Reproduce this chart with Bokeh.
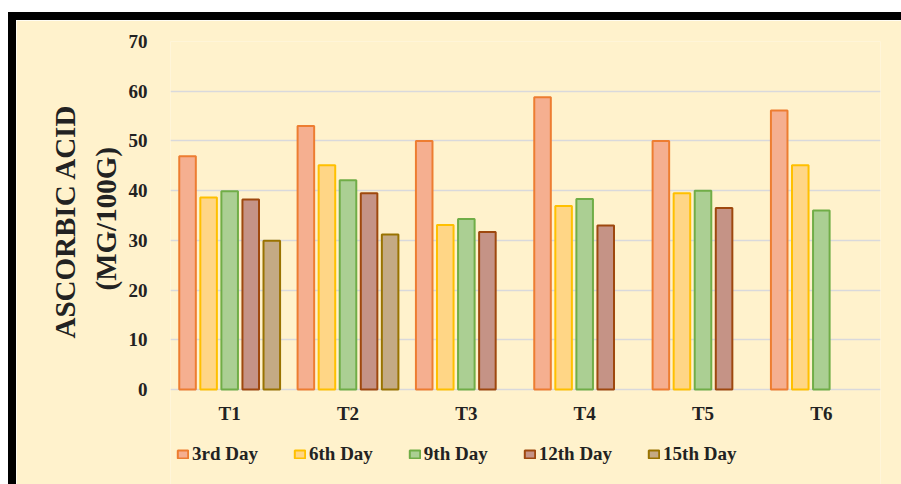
from bokeh.plotting import figure
from bokeh.models import (FactorRange, Range1d, Legend, LegendItem, Title,
                          FixedTicker, ColumnDataSource)
from bokeh.core.properties import value
from bokeh.transform import dodge
from bokeh.embed import file_html
from bokeh.resources import INLINE

treatments = ["T1", "T2", "T3", "T4", "T5", "T6"]
series_names = ["3rd Day", "6th Day", "9th Day", "12th Day", "15th Day"]
day3 = [46.9, 53.0, 50.0, 58.8, 50.0, 56.1]
day6 = [38.6, 45.1, 33.1, 36.9, 39.5, 45.1]
day9 = [39.9, 42.1, 34.3, 38.3, 40.0, 36.0]
day12 = [38.2, 39.5, 31.7, 33.0, 36.5, None]
day15 = [29.9, 31.2, None, None, None, None]
y_ticks = [0, 10, 20, 30, 40, 50, 60, 70]
y_title_lines = ["ASCORBIC ACID", "(MG/100G)"]

series_values = [day3, day6, day9, day12, day15]
fill_colors = ["#F5AF90", "#FFD686", "#ABCF93", "#C59386", "#C4AA84"]
line_colors = ["#ED7D31", "#FFC000", "#70AD47", "#9E480E", "#997300"]
offsets = [-0.356, -0.178, 0.0, 0.178, 0.356]

BG = "#FFF2CC"
FONT = "Liberation Serif"
TXT = "#222222"

# layout: value axis 0..70 occupies 348 px; the frame extends below it to hold
# the category labels and the legend.
AXIS_PX = 348
FRAME_H = 443
PX_PER_UNIT = AXIS_PX / 70.0
Y_MIN = 70 - FRAME_H / PX_PER_UNIT
LABEL_Y = -24 / PX_PER_UNIT

p = figure(frame_width=710, frame_height=FRAME_H,
           x_range=FactorRange(factors=treatments, range_padding=0),
           y_range=Range1d(Y_MIN, 70), output_backend="svg", toolbar_location=None,
           min_border_left=154, min_border_right=21, min_border_top=21, min_border_bottom=0)
p.background_fill_color = BG
p.border_fill_color = BG
p.outline_line_color = None
p.styles = {"border-top": "8px solid black", "border-left": "8px solid black",
            "margin-top": "12px", "margin-left": "8px"}

items = []
for name, vals, fc, lc, off in zip(series_names, series_values, fill_colors, line_colors, offsets):
    xs = [t for t, v in zip(treatments, vals) if v is not None]
    ys = [v for v in vals if v is not None]
    src = ColumnDataSource(dict(x=xs, top=ys))
    r = p.vbar(x=dodge("x", off, range=p.x_range), top="top", bottom=0, width=0.14,
               source=src, fill_color=fc, line_color=lc, line_width=2)
    items.append(LegendItem(label=name, renderers=[r]))

# category labels under the zero line
p.text(x=treatments, y=[LABEL_Y] * len(treatments), text=treatments,
       text_align="center", text_baseline="middle", text_font=value(FONT),
       text_font_style="bold", text_font_size="19px", text_color=TXT)

p.xgrid.grid_line_color = None
p.ygrid.grid_line_color = "#D9D9DC"
p.ygrid.grid_line_width = 1.5
p.yaxis.ticker = FixedTicker(ticks=y_ticks)
p.xaxis.visible = False

p.yaxis.axis_line_color = None
p.yaxis.major_tick_line_color = None
p.yaxis.minor_tick_line_color = None
p.yaxis.major_label_text_font = FONT
p.yaxis.major_label_text_font_style = "bold"
p.yaxis.major_label_text_font_size = "19px"
p.yaxis.major_label_text_color = TXT
p.yaxis.major_label_standoff = 17

# two-line y title, placed with Titles on the left side
t1 = Title(text=y_title_lines[1], align="left", offset=194, standoff=8,
           text_font=FONT, text_font_style="bold", text_font_size="29px",
           text_color=TXT)
t2 = Title(text=y_title_lines[0], align="left", offset=146, standoff=6,
           text_font=FONT, text_font_style="bold", text_font_size="29px",
           text_color=TXT)
p.add_layout(t1, "left")
p.add_layout(t2, "left")

legend = Legend(items=items, orientation="horizontal", location=(6, 19),
                glyph_width=13, glyph_height=10, label_standoff=3, spacing=35,
                label_text_font=FONT, label_text_font_style="bold",
                label_text_font_size="19px", label_text_color=TXT,
                background_fill_alpha=0, border_line_color=None,
                padding=0, margin=0, label_height=20)
p.add_layout(legend, "center")

open("out.html", "w").write(file_html(p, INLINE))
